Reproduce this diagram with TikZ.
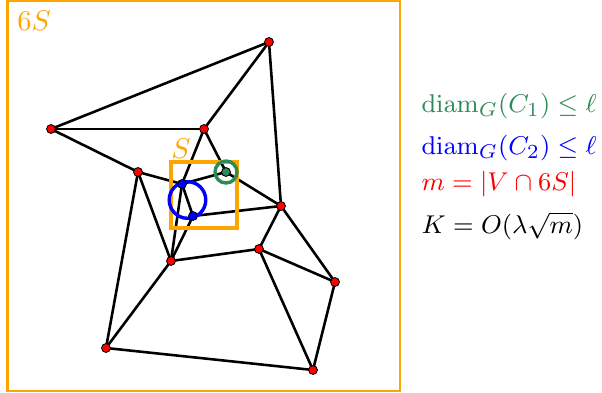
\documentclass[tikz,border=0pt]{standalone}
\usepackage{tikz}
\usetikzlibrary{positioning,calc}
\usepackage{amsmath}
\definecolor{boxorange}{RGB}{255,165,0}
\definecolor{compgreen}{RGB}{46,139,87}

\begin{document}
\begin{tikzpicture}[x=0.35pt,y=-0.35pt,
  vtx/.style={circle,draw=black,line width=0.3pt,fill=red,inner sep=0pt,minimum size=3.1pt},
  edge/.style={line width=0.9pt},
  sqbox/.style={draw=boxorange,line width=1pt},
  ring/.style={circle,line width=1.2pt,inner sep=0pt},
  bound/.style={anchor=base west,inner sep=0pt,font=\fontsize{9.5}{11}\selectfont}]
  \useasboundingbox (0,0) rectangle (602,393);
  % vertices
  \foreach \n/\x/\y in {a/269/42,b/51/129,c/204/129,d/138/172,g/281/206,i/171/261,
                        j/259/249,k/335/282,l/106/348,m/313/370} {
    \coordinate (\n) at (\x,\y);
  }
  \coordinate (e) at (182,184);
  \coordinate (f) at (226,172);
  \coordinate (h) at (193,216);
  % edges
  \foreach \u/\v in {a/b,b/c,a/c,a/g,c/e,c/f,b/d,d/e,e/f,e/h,f/g,h/g,h/i,e/i,d/i,
                     d/l,i/l,i/j,g/j,j/k,g/k,j/m,k/m,l/m} {
    \draw[edge] (\u) -- (\v);
  }
  % squares
  \draw[sqbox] (7.5,1) rectangle (400,391);
  \draw[sqbox,line width=1.1pt] (171,162) rectangle (237,228);
  \node[text=boxorange] (lab6s) at (34,21) {$6S$};
  \node[text=boxorange] (labs) at (181,149) {$S$};
  % components
  \node[ring,draw=compgreen,minimum size=7.7pt] (c1) at (f) {};
  \node[ring,draw=blue,minimum size=12.8pt] (c2) at (187.5,200) {};
  \foreach \n in {a,b,c,d,g,i,j,k,l,m} { \node[vtx] (v\n) at (\n) {}; }
  \node[vtx,fill=blue] (ve) at (e) {};
  \node[vtx,fill=blue] (vh) at (h) {};
  \node[vtx,fill=compgreen] (vf) at (f) {};
  % bounds
  \node[bound,text=compgreen] (t1) at (421,112) {$\operatorname{diam}_G(C_1)\le\ell$};
  \node[bound,text=blue] (t2) at (421,154) {$\operatorname{diam}_G(C_2)\le\ell$};
  \node[bound,text=red] (t3) at (421,190) {$m=|V\cap 6S|$};
  \node[bound] (t4) at (421,233) {$K=O(\lambda\sqrt{m})$};
\end{tikzpicture}
\end{document}
